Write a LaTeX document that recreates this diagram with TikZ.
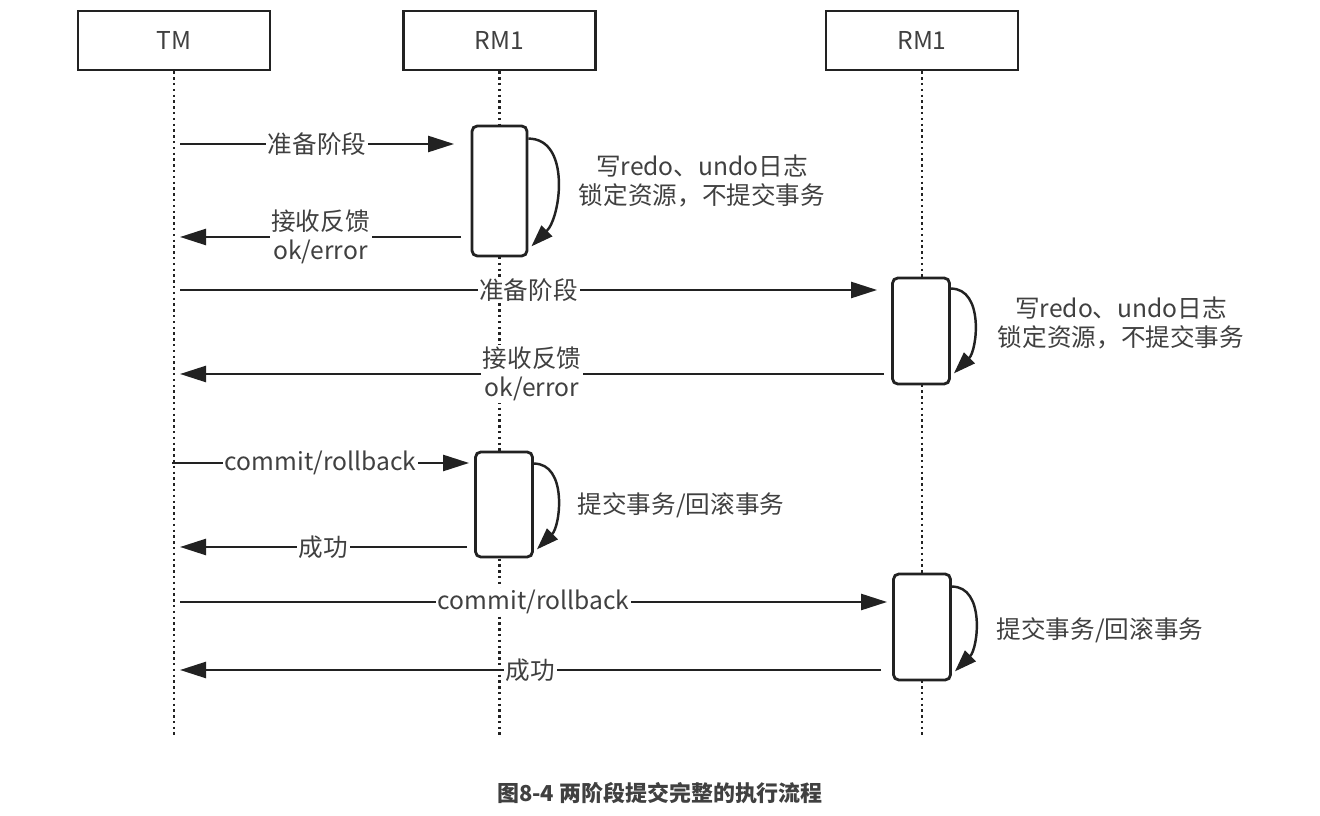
\documentclass[tikz,border=0pt]{standalone}
\usepackage{fontspec}
\setmainfont{Noto Sans CJK SC}
\usetikzlibrary{arrows.meta}
\definecolor{inkgray}{HTML}{222222}
\definecolor{txtgray}{HTML}{404040}
\tikzset{
    party/.style={draw=inkgray,line width=1.6pt,minimum width=3.84cm,minimum height=1.18cm,
        text=txtgray,font=\fontsize{14}{17}\selectfont},
    lifeline/.style={inkgray,line width=1.5pt,dash pattern=on 1.4pt off 1.9pt},
    activ/.style={draw=inkgray,fill=white,line width=1.6pt,rounded corners=3pt,minimum width=1.14cm},
    msg/.style={inkgray,line width=1.4pt,-{Triangle[length=0.52cm,width=0.32cm]}},
    selfloop/.style={inkgray,line width=1.4pt,-{Triangle[length=0.44cm,width=0.3cm]}},
    lbl/.style={fill=white,inner sep=1pt,text=txtgray,align=center,
        font=\fontsize{14}{16.5}\selectfont},
    note/.style={text=txtgray,align=center,font=\fontsize{14}{16.5}\selectfont}
}
\begin{document}
\begin{tikzpicture}
    \useasboundingbox (0,0) rectangle (26.4,-16.32);

    % Participants
    \node[party] (tm) at (3.48,-0.81) {TM};
    \node[party] (rma) at (9.99,-0.81) {RM1};
    \node[party] (rmb) at (18.44,-0.81) {RM1};

    % Lifelines
    \coordinate (tmend) at (3.48,-14.7);
    \coordinate (rmaend) at (9.99,-14.7);
    \coordinate (rmbend) at (18.44,-14.7);
    \draw[lifeline] (tm.south) -- (tmend);
    \draw[lifeline] (rma.south) -- (rmaend);
    \draw[lifeline] (rmb.south) -- (rmbend);

    % Activations
    \node[activ,minimum width=1.1cm,minimum height=2.6cm] (a1) at (9.99,-3.82) {};
    \node[activ,minimum height=2.12cm] (a2) at (18.42,-6.62) {};
    \node[activ,minimum height=2.1cm] (a3) at (10.08,-10.09) {};
    \node[activ,minimum height=2.12cm] (a4) at (18.44,-12.54) {};

    % Points on the TM lifeline
    \coordinate (p1) at (3.6,-2.88);
    \coordinate (q1) at (3.6,-4.74);
    \coordinate (p2) at (3.6,-5.8);
    \coordinate (q2) at (3.6,-7.48);
    \coordinate (p3) at (3.44,-9.26);
    \coordinate (q3) at (3.6,-10.94);
    \coordinate (p4) at (3.6,-12.04);
    \coordinate (q4) at (3.6,-13.4);

    % Phase one
    \draw[msg] (p1) -- node[lbl] {准备阶段} ([xshift=-0.33cm]p1 -| a1.west);
    \draw[msg] ([xshift=-0.19cm]q1 -| a1.west) -- node[lbl] {接收反馈\\ok/error} (q1);
    \draw[msg] (p2) -- node[lbl] {准备阶段} ([xshift=-0.28cm]p2 -| a2.west);
    \draw[msg] ([xshift=-0.14cm]q2 -| a2.west) -- node[lbl] {接收反馈\\ok/error} (q2);

    % Phase two
    \draw[msg] (p3) -- node[lbl] {commit/rollback} ([xshift=-0.1cm]p3 -| a3.west);
    \draw[msg] ([xshift=-0.14cm]q3 -| a3.west) -- node[lbl] {成功} (q3);
    \draw[msg] (p4) -- node[lbl] {commit/rollback} ([xshift=-0.1cm]p4 -| a4.west);
    \draw[msg] ([xshift=-0.22cm]q4 -| a4.west) -- node[lbl] {成功} (q4);

    % Self calls
    \draw[selfloop] ([yshift=-0.28cm]a1.north east) to[out=0,in=45] ([xshift=0.06cm,yshift=0.22cm]a1.south east);
    \draw[selfloop] ([yshift=-0.24cm]a2.north east) to[out=0,in=45] ([xshift=0.06cm,yshift=0.24cm]a2.south east);
    \draw[selfloop] ([yshift=-0.26cm]a3.north east) to[out=0,in=45] ([xshift=0.06cm,yshift=0.18cm]a3.south east);
    \draw[selfloop] ([yshift=-0.28cm]a4.north east) to[out=0,in=45] ([xshift=0.06cm,yshift=0.2cm]a4.south east);

    % Notes
    \node[note] (n1) at (14.04,-3.61) {写redo、undo日志\\锁定资源，不提交事务};
    \node[note] (n2) at (22.42,-6.45) {写redo、undo日志\\锁定资源，不提交事务};
    \node[note] (n3) at (13.62,-10.1) {提交事务/回滚事务};
    \node[note] (n4) at (22.0,-12.6) {提交事务/回滚事务};

    % Caption
    \node[text=txtgray,font=\bfseries\fontsize{12.5}{15}\selectfont] (cap) at (13.2,-15.86) {图8-4 两阶段提交完整的执行流程};
\end{tikzpicture}
\end{document}
